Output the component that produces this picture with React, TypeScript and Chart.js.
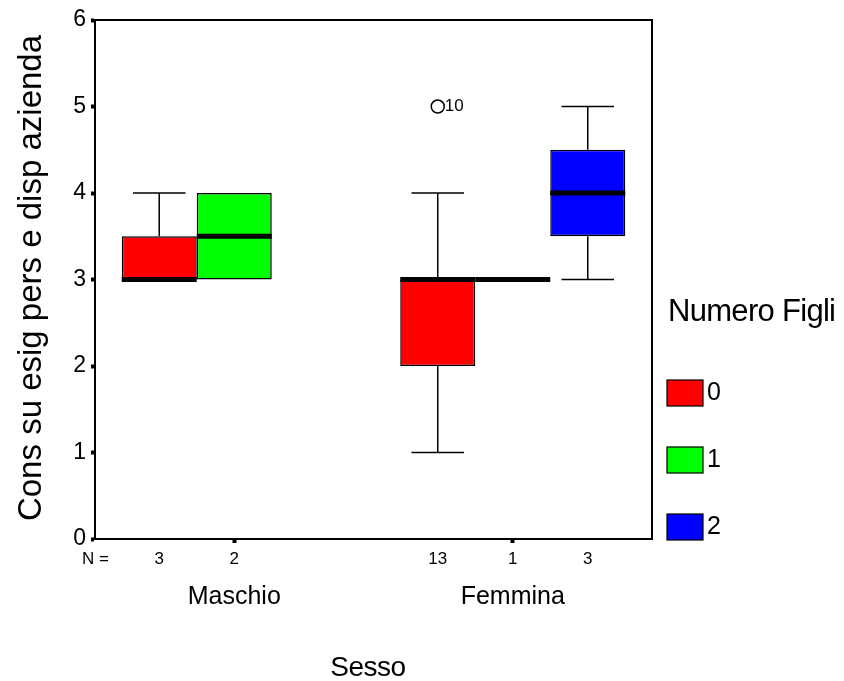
import React, { useEffect, useRef } from 'react';
import { Chart, registerables } from 'chart.js';

Chart.register(...registerables);

const FONT = "'Liberation Sans', Arial, sans-serif";

// Sesso categories and Numero Figli groups
const sessoLabels = ['Maschio', 'Femmina'];
const figliLabels = ['0', '1', '2'];
const figliColors = ['#ff0000', '#00ff00', '#0000ff'];
const yTickValues = [0, 1, 2, 3, 4, 5, 6];

// Box statistics, one row per Numero Figli group, one column per Sesso
const minVals: (number | null)[][] = [[3, 1], [3, 3], [null, 3]];
const q1Vals: (number | null)[][] = [[3, 2], [3, null], [null, 3.5]];
const medianVals: (number | null)[][] = [[3, 3], [3.5, 3], [null, 4]];
const q3Vals: (number | null)[][] = [[3.5, 3], [4, null], [null, 4.5]];
const maxVals: (number | null)[][] = [[4, 4], [4, 3], [null, 5]];
const nVals: (number | null)[][] = [[3, 13], [2, 1], [null, 3]];

// Outlying cases: group, category, value and case number
const outlierGroup = [0];
const outlierSesso = [1];
const outlierValue = [5];
const outlierCase = ['10'];

const CATEGORY_PCT = 0.808;

const boxPlugin = {
  id: 'spssBoxes',
  afterDatasetsDraw(chart: any) {
    const { ctx, chartArea, scales } = chart;
    const xs = scales.x;
    const ys = scales.y;
    const catW = (chartArea.right - chartArea.left) / sessoLabels.length;
    const slotW = (catW * CATEGORY_PCT) / figliLabels.length;
    const slotX = (g: number, s: number) =>
      xs.getPixelForValue(s) + (g - (figliLabels.length - 1) / 2) * slotW;

    ctx.save();
    ctx.strokeStyle = '#000';
    ctx.fillStyle = '#000';

    for (let g = 0; g < figliLabels.length; g++) {
      for (let s = 0; s < sessoLabels.length; s++) {
        const med = medianVals[g][s];
        if (med == null) continue;
        const cx = slotX(g, s);
        const lo = minVals[g][s];
        const hi = maxVals[g][s];
        const q1 = q1Vals[g][s] ?? med;
        const q3 = q3Vals[g][s] ?? med;
        const capW = slotW * 0.7;
        ctx.lineWidth = 1.5;
        // whiskers
        if (hi != null && hi > q3) {
          ctx.beginPath();
          ctx.moveTo(cx, ys.getPixelForValue(q3));
          ctx.lineTo(cx, ys.getPixelForValue(hi));
          ctx.moveTo(cx - capW / 2, ys.getPixelForValue(hi));
          ctx.lineTo(cx + capW / 2, ys.getPixelForValue(hi));
          ctx.stroke();
        }
        if (lo != null && lo < q1) {
          ctx.beginPath();
          ctx.moveTo(cx, ys.getPixelForValue(q1));
          ctx.lineTo(cx, ys.getPixelForValue(lo));
          ctx.moveTo(cx - capW / 2, ys.getPixelForValue(lo));
          ctx.lineTo(cx + capW / 2, ys.getPixelForValue(lo));
          ctx.stroke();
        }
        // median
        ctx.lineWidth = 5;
        ctx.beginPath();
        ctx.moveTo(cx - slotW / 2, ys.getPixelForValue(med));
        ctx.lineTo(cx + slotW / 2, ys.getPixelForValue(med));
        ctx.stroke();
      }
    }

    // outliers
    for (let i = 0; i < outlierValue.length; i++) {
      const cx = slotX(outlierGroup[i], outlierSesso[i]);
      const cy = ys.getPixelForValue(outlierValue[i]);
      ctx.lineWidth = 1.5;
      ctx.beginPath();
      ctx.arc(cx, cy, 6.5, 0, Math.PI * 2);
      ctx.stroke();
      ctx.font = `17px ${FONT}`;
      ctx.textAlign = 'left';
      ctx.textBaseline = 'middle';
      ctx.fillText(outlierCase[i], cx + 7, cy);
    }

    // plot frame
    ctx.lineWidth = 2;
    ctx.strokeRect(chartArea.left, chartArea.top, chartArea.right - chartArea.left, chartArea.bottom - chartArea.top);

    // N row
    ctx.font = `17px ${FONT}`;
    ctx.textBaseline = 'middle';
    ctx.textAlign = 'left';
    const nY = chartArea.bottom + 20;
    ctx.fillText('N =', chartArea.left - 13, nY);
    ctx.textAlign = 'center';
    for (let g = 0; g < figliLabels.length; g++) {
      for (let s = 0; s < sessoLabels.length; s++) {
        const n = nVals[g][s];
        if (n == null) continue;
        ctx.fillText(String(n), slotX(g, s), nY);
      }
    }

    // axis titles
    ctx.textAlign = 'center';
    ctx.textBaseline = 'middle';
    ctx.font = `33px ${FONT}`;
    (ctx as any).letterSpacing = '0px';
    ctx.save();
    ctx.translate(32, 278);
    ctx.rotate(-Math.PI / 2);
    ctx.fillText('Cons su esig pers e disp azienda', 0, 0);
    ctx.restore();

    ctx.font = `28px ${FONT}`;
    (ctx as any).letterSpacing = '-0.5px';
    ctx.fillText('Sesso', 368, 668);

    // legend
    ctx.textAlign = 'left';
    ctx.font = `31px ${FONT}`;
    (ctx as any).letterSpacing = '-0.7px';
    ctx.fillText('Numero Figli', 668, 312);
    (ctx as any).letterSpacing = '0px';
    ctx.font = `25px ${FONT}`;
    for (let g = 0; g < figliLabels.length; g++) {
      const top = 380 + g * 67;
      ctx.fillStyle = figliColors[g];
      ctx.fillRect(667, top, 36, 26);
      ctx.lineWidth = 1.2;
      ctx.strokeStyle = '#000';
      ctx.strokeRect(667, top, 36, 26);
      ctx.fillStyle = '#000';
      ctx.fillText(figliLabels[g], 707, top + 13);
    }
    ctx.restore();
  },
};

export default function App() {
  const canvasRef = useRef<HTMLCanvasElement | null>(null);

  useEffect(() => {
    if (!canvasRef.current) return;
    const datasets = figliLabels.map((label, g) => ({
      label,
      data: sessoLabels.map((_, s) => {
        const a = q1Vals[g][s];
        const b = q3Vals[g][s];
        return a != null && b != null ? [a, b] : null;
      }),
      backgroundColor: figliColors[g],
      borderColor: '#000',
      borderWidth: 1.5,
      borderSkipped: false,
      categoryPercentage: CATEGORY_PCT,
      barPercentage: 1,
    }));

    const chart = new Chart(canvasRef.current, {
      type: 'bar',
      data: { labels: sessoLabels, datasets: datasets as any },
      options: {
        responsive: false,
        animation: false,
        layout: { padding: { left: 0, top: 20, right: 192, bottom: 0 } },
        plugins: { legend: { display: false }, tooltip: { enabled: false } },
        scales: {
          x: {
            offset: true,
            afterFit: (s: any) => { s.height = 142; },
            ticks: { color: '#000', font: { family: FONT, size: 25 }, padding: 39 },
            grid: { offset: false, drawOnChartArea: false, drawTicks: true, tickLength: 4, tickWidth: 4, tickColor: '#000' },
            border: { display: true, color: '#000', width: 2 },
          },
          y: {
            min: yTickValues[0],
            max: yTickValues[yTickValues.length - 1],
            afterFit: (s: any) => { s.width = 95; },
            ticks: { stepSize: 1, color: '#000', font: { family: FONT, size: 23 }, padding: 5 },
            grid: { drawOnChartArea: false, drawTicks: true, tickLength: 4, tickWidth: 4, tickColor: '#000' },
            border: { display: true, color: '#000', width: 2 },
          },
        },
      },
      plugins: [boxPlugin],
    });
    return () => chart.destroy();
  }, []);

  return (
    <div style={{ position: 'absolute', left: 0, top: 0, width: 844, height: 681, background: '#fff' }}>
      <canvas ref={canvasRef} width={844} height={681} />
    </div>
  );
}
